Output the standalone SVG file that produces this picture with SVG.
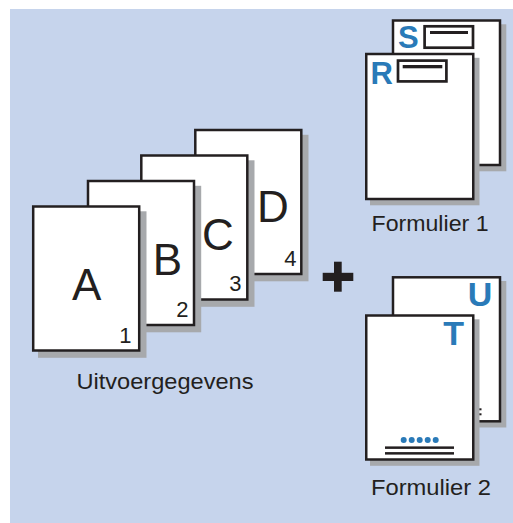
<svg xmlns="http://www.w3.org/2000/svg" width="513" height="523" viewBox="0 0 513 523">
<style>
.page{fill:#ffffff;stroke:#231f20;stroke-width:2.5}
.shadow{fill:#a7a9ac}
.big{font-family:"Liberation Sans",Arial,sans-serif;font-size:44px;fill:#231f20;text-anchor:middle}
.num{font-family:"Liberation Sans",Arial,sans-serif;font-size:22px;fill:#231f20;text-anchor:end}
.blue{font-family:"Liberation Sans",Arial,sans-serif;font-weight:bold;fill:#2a7ab8;text-anchor:middle}
.label{font-family:"Liberation Sans",Arial,sans-serif;font-size:22px;fill:#231f20}
.box{fill:#ffffff;stroke:#231f20;stroke-width:2.7}
.ink{fill:#231f20}
.dot{fill:#2a7ab8}
</style>
<rect x="10" y="9" width="503" height="514" fill="#c6d4ec"/>

<g id="uitvoer">
  <g id="page-D">
    <rect class="shadow" x="200" y="134.8" width="108.5" height="146.5"/>
    <rect class="page" x="195.3" y="130" width="106" height="144"/>
    <text class="big" x="273" y="221.7">D</text>
    <text class="num" x="296.5" y="265.7">4</text>
  </g>
  <g id="page-C">
    <rect class="shadow" x="146" y="160.3" width="108.5" height="146.5"/>
    <rect class="page" x="141.3" y="155.5" width="106" height="144"/>
    <text class="big" x="218" y="250">C</text>
    <text class="num" x="241.5" y="290.7">3</text>
  </g>
  <g id="page-B">
    <rect class="shadow" x="92.7" y="185.8" width="108.5" height="146.5"/>
    <rect class="page" x="88" y="181" width="106" height="144"/>
    <text class="big" x="167.5" y="275">B</text>
    <text class="num" x="188.5" y="316.7">2</text>
  </g>
  <g id="page-A">
    <rect class="shadow" x="38" y="211.3" width="108.5" height="146.5"/>
    <rect class="page" x="33.2" y="206.5" width="106" height="144"/>
    <text class="big" x="86.7" y="300">A</text>
    <text class="num" x="131.5" y="342.7">1</text>
  </g>
  <text class="label" x="76.5" y="389.3" textLength="177" lengthAdjust="spacingAndGlyphs">Uitvoergegevens</text>
</g>

<g id="plus">
  <rect class="ink" x="334" y="261.7" width="7.7" height="30"/>
  <rect class="ink" x="322.7" y="272.8" width="30.6" height="8.2"/>
</g>

<g id="formulier1">
  <g id="page-S">
    <rect class="shadow" x="396.8" y="24.3" width="109.5" height="147"/>
    <rect class="page" x="393" y="20.5" width="107" height="144.5"/>
    <text class="blue" x="408.3" y="48" font-size="31">S</text>
    <rect class="box" x="424.6" y="26.3" width="48.4" height="21.4"/>
    <rect class="ink" x="430" y="31" width="38" height="3"/>
  </g>
  <g id="page-R">
    <rect class="shadow" x="370" y="57.8" width="109.5" height="147.5"/>
    <rect class="page" x="366.25" y="54" width="107" height="145"/>
    <text class="blue" x="381.7" y="84" font-size="31">R</text>
    <rect class="box" x="398" y="60.6" width="48.4" height="20.8"/>
    <rect class="ink" x="402.7" y="65" width="39.6" height="3.3"/>
  </g>
  <text class="label" x="371.5" y="230.7" textLength="117" lengthAdjust="spacingAndGlyphs">Formulier 1</text>
</g>

<g id="formulier2">
  <g id="page-U">
    <rect class="shadow" x="396.8" y="281" width="109.5" height="146.5"/>
    <rect class="page" x="393" y="277.3" width="107" height="144"/>
    <text class="blue" x="480" y="306" font-size="34">U</text>
    <rect class="ink" x="478.5" y="408.3" width="3" height="2"/>
    <rect class="ink" x="478.5" y="413.3" width="3" height="2"/>
  </g>
  <g id="page-T">
    <rect class="shadow" x="370" y="319.3" width="109.5" height="146.5"/>
    <rect class="page" x="366.25" y="315.5" width="107" height="144"/>
    <text class="blue" x="453.7" y="345" font-size="34">T</text>
    <circle class="dot" cx="403.7" cy="440" r="3"/>
    <circle class="dot" cx="411.7" cy="440" r="3"/>
    <circle class="dot" cx="419.7" cy="440" r="3"/>
    <circle class="dot" cx="427.7" cy="440" r="3"/>
    <circle class="dot" cx="435.7" cy="440" r="3"/>
    <rect class="ink" x="385" y="446.4" width="69" height="2.5"/>
    <rect class="ink" x="385" y="452.1" width="69" height="2.5"/>
  </g>
  <text class="label" x="371" y="495" textLength="120" lengthAdjust="spacingAndGlyphs">Formulier 2</text>
</g>
</svg>
